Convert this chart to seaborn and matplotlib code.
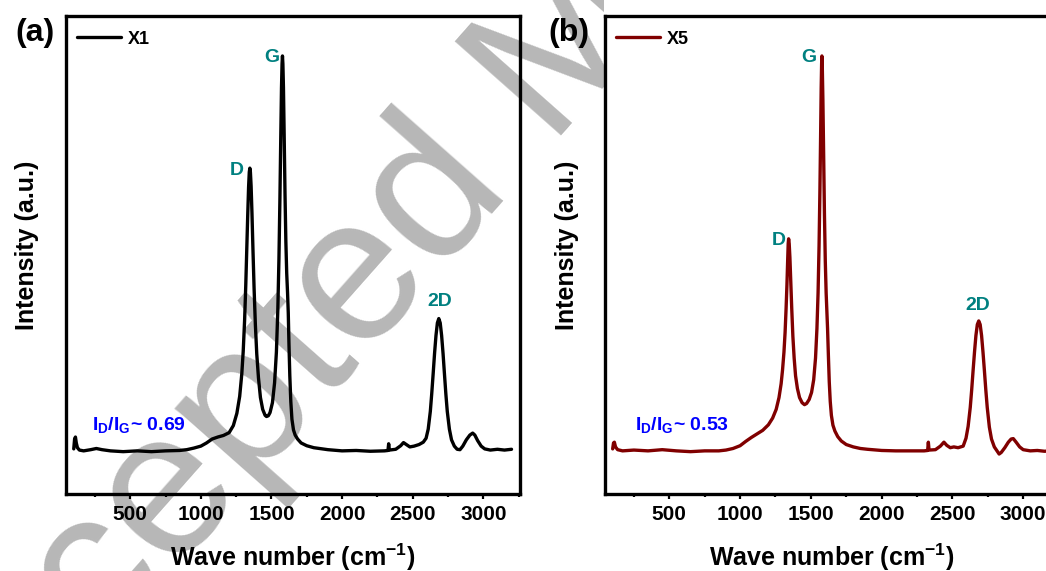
import matplotlib
matplotlib.use("Agg")
import matplotlib.pyplot as plt
from matplotlib.ticker import MultipleLocator
from matplotlib.patches import Rectangle
import seaborn as sns

# ---------------- data ----------------
wn_x1 = [100, 106, 112, 118, 126, 140, 170, 220, 260, 300, 360, 450, 550, 650, 750, 850,
         900, 950, 1000, 1040, 1080, 1120, 1160, 1200, 1230, 1255, 1275, 1290, 1300, 1310,
         1318, 1325, 1332, 1338, 1343, 1347, 1351, 1356, 1362, 1369, 1377, 1386, 1396, 1408,
         1422, 1438, 1455, 1465, 1478, 1490, 1507, 1522, 1535, 1545, 1553, 1560, 1566, 1571,
         1575, 1578, 1581, 1585, 1590, 1596, 1602, 1608, 1614, 1619, 1624, 1630, 1637, 1645,
         1656, 1668, 1685, 1710, 1750, 1800, 1900, 2000, 2100, 2200, 2300, 2325, 2330, 2335,
         2380, 2415, 2435, 2455, 2480, 2510, 2545, 2575, 2595, 2610, 2625, 2635, 2645, 2655,
         2665, 2675, 2685, 2695, 2705, 2715, 2725, 2735, 2745, 2760, 2775, 2795, 2815, 2835,
         2855, 2880, 2905, 2925, 2940, 2960, 2985, 3010, 3050, 3100, 3150, 3200]
int_x1 = [0.005, 0.03, 0.035, 0.02, 0.008, 0.002, 0.0, 0.003, 0.006, 0.003, 0.0, -0.002, 0.0,
          -0.002, 0.0, 0.001, 0.003, 0.007, 0.012, 0.02, 0.03, 0.035, 0.039, 0.046, 0.064,
          0.095, 0.138, 0.195, 0.252, 0.332, 0.418, 0.508, 0.598, 0.668, 0.706, 0.716, 0.706,
          0.67, 0.602, 0.51, 0.412, 0.32, 0.245, 0.185, 0.135, 0.105, 0.09, 0.087, 0.089,
          0.097, 0.122, 0.172, 0.25, 0.356, 0.486, 0.641, 0.796, 0.919, 0.98, 1.0, 0.98, 0.92,
          0.80, 0.65, 0.53, 0.45, 0.40, 0.35, 0.27, 0.19, 0.125, 0.08, 0.053, 0.04, 0.03, 0.02,
          0.013, 0.008, 0.003, 0.0, 0.001, -0.001, 0.0, 0.001, 0.018, 0.002, 0.004, 0.013,
          0.021, 0.016, 0.01, 0.012, 0.016, 0.022, 0.032, 0.055, 0.10, 0.145, 0.195, 0.247,
          0.292, 0.324, 0.335, 0.324, 0.292, 0.247, 0.195, 0.144, 0.10, 0.055, 0.028, 0.012,
          0.004, 0.003, 0.012, 0.028, 0.04, 0.045, 0.04, 0.026, 0.012, 0.005, 0.002, 0.004,
          0.002, 0.004]

wn_x5 = [100, 106, 112, 120, 135, 170, 250, 350, 450, 550, 650, 750, 850, 900, 950, 1000,
         1040, 1080, 1120, 1160, 1200, 1230, 1255, 1275, 1290, 1300, 1310, 1318, 1325, 1331,
         1336, 1340, 1343, 1347, 1352, 1358, 1365, 1373, 1382, 1392, 1405, 1420, 1438, 1455,
         1470, 1488, 1505, 1520, 1533, 1543, 1551, 1558, 1564, 1569, 1573, 1576, 1578, 1581,
         1585, 1590, 1596, 1602, 1608, 1613, 1618, 1624, 1630, 1637, 1645, 1656, 1670, 1690,
         1715, 1750, 1800, 1850, 1900, 2000, 2100, 2200, 2300, 2325, 2330, 2335, 2380, 2415,
         2440, 2460, 2485, 2510, 2540, 2576, 2596, 2611, 2626, 2636, 2646, 2656, 2666, 2676,
         2686, 2696, 2706, 2716, 2726, 2736, 2746, 2761, 2776, 2796, 2815, 2830, 2845, 2870,
         2895, 2915, 2930, 2950, 2975, 3000, 3050, 3100, 3150, 3200]
int_x5 = [0.005, 0.02, 0.022, 0.01, 0.003, 0.0, 0.002, 0.0, 0.003, 0.0, -0.002, 0.0, 0.0,
          0.002, 0.006, 0.013, 0.024, 0.034, 0.043, 0.052, 0.066, 0.083, 0.105, 0.135, 0.17,
          0.205, 0.25, 0.30, 0.36, 0.42, 0.48, 0.525, 0.537, 0.525, 0.49, 0.43, 0.36, 0.29,
          0.235, 0.19, 0.158, 0.135, 0.122, 0.117, 0.12, 0.13, 0.148, 0.18, 0.235, 0.31, 0.40,
          0.52, 0.66, 0.80, 0.92, 0.98, 1.0, 0.97, 0.89, 0.76, 0.60, 0.48, 0.40, 0.355, 0.31,
          0.24, 0.175, 0.125, 0.09, 0.065, 0.05, 0.036, 0.025, 0.016, 0.01, 0.006, 0.004,
          0.001, 0.0, 0.0, 0.0, 0.001, 0.022, 0.002, 0.003, 0.012, 0.022, 0.014, 0.008, 0.01,
          0.008, 0.012, 0.032, 0.062, 0.11, 0.154, 0.203, 0.25, 0.292, 0.32, 0.329, 0.32,
          0.292, 0.25, 0.203, 0.154, 0.11, 0.06, 0.03, 0.01, 0.0, -0.008, -0.004, 0.008,
          0.022, 0.03, 0.031, 0.022, 0.01, 0.003, 0.0, 0.001, -0.001, 0.0]

peak_names = ["D", "G", "2D"]
peak_pos_x1 = [(1254, 0.71), (1505, 0.996), (2694, 0.378)]
peak_pos_x5 = [(1270, 0.532), (1486, 0.996), (2682, 0.368)]
ratio_x1 = "0.69"
ratio_x5 = "0.53"
series_names = ["X1", "X5"]
panel_tags = ["(a)", "(b)"]
xticks = [500, 1000, 1500, 2000, 2500, 3000]

# ---------------- style ----------------
sns.set_theme(style="ticks")
plt.rcParams["font.family"] = ["Liberation Sans", "DejaVu Sans"]
plt.rcParams.update({
    "font.weight": "bold",
    "text.color": "black",
    "axes.labelcolor": "black",
    "axes.edgecolor": "black",
    "xtick.color": "black",
    "ytick.color": "black",
    "mathtext.fontset": "custom",
    "mathtext.rm": "Liberation Sans:bold",
    "mathtext.bf": "Liberation Sans:bold",
    "mathtext.it": "Liberation Sans:bold",
})

W, H = 1046, 571
fig = plt.figure(figsize=(W / 100, H / 100), dpi=100)
fig.patch.set_facecolor("white")


def px_axes(left, top, right, bottom):
    return fig.add_axes([left / W, 1 - bottom / H, (right - left) / W, (bottom - top) / H])


# watermark behind the plots (only visible left of panel b, as in the reference)
wm = fig.text(-55 / W, 1 - 833 / H, "Accepted Manuscript", fontsize=148, color="#b7b7b7",
              rotation=48.5, rotation_mode="anchor", ha="left", va="baseline",
              fontweight="normal", zorder=-10)
wm.set_clip_path(Rectangle((0, 0), 604 / W, 1, transform=fig.transFigure))

ax_a = px_axes(65.7, 15.7, 520, 494.3)
ax_b = px_axes(604.6, 15.7, 1060, 494.3)

TEAL = "#008080"
BLUE = "#0000ff"


def draw(ax, x, y, color, name, peaks, ratio, ratio_x):
    ax.set_facecolor("none")
    sns.lineplot(x=x, y=y, ax=ax, color=color, linewidth=2.4, label=name,
                 estimator=None, sort=False)
    ax.set_xlim(43, 3260)
    ax.set_ylim(-0.11, 1.102)
    ax.set_xticks(xticks)
    ax.xaxis.set_minor_locator(MultipleLocator(250))
    ax.set_yticks([])
    ax.tick_params(axis="x", which="major", direction="out", length=3.5, width=1.6,
                   labelsize=15, pad=4.5, bottom=True, top=False)
    ax.tick_params(axis="x", which="minor", direction="out", length=2.0, width=1.6,
                   bottom=True, top=False)
    for s in ax.spines.values():
        s.set_visible(True)
        s.set_linewidth(2.4)
        s.set_color("black")
    ax.set_xlabel("")
    ax.set_ylabel("")
    for nm, (px, py) in zip(peak_names, peaks):
        ax.text(px, py, nm, color=TEAL, fontsize=14, fontweight="bold",
                ha="center", va="center")
    ax.text(ratio_x, 0.066, r"$\mathbf{I_D}$/$\mathbf{I_G}$~ " + ratio, color=BLUE,
            fontsize=14, fontweight="bold", ha="left", va="center")
    ax.legend(loc="center left", bbox_to_anchor=(0.0242, 0.9507), frameon=False,
              handlelength=2.44, handletextpad=0.4, borderpad=0, borderaxespad=0,
              prop={"weight": "bold", "size": 13})


draw(ax_a, wn_x1, int_x1, "black", series_names[0], peak_pos_x1, ratio_x1, 229)
draw(ax_b, wn_x5, int_x5, "#800000", series_names[1], peak_pos_x5, ratio_x5, 260)

# axis titles and panel tags
for cx_label, cx_axis, tag, tx in [(27, 292.8, panel_tags[0], 35), (567, 832, panel_tags[1], 568.8)]:
    fig.text(cx_label / W, 1 - 245 / H, "Intensity (a.u.)", rotation=90, ha="center",
             va="center", fontsize=18, fontweight="bold")
    fig.text(cx_axis / W, 1 - 566 / H, r"Wave number (cm$^{\mathbf{-1}}$)", ha="center",
             va="baseline", fontsize=18, fontweight="bold")
    fig.text(tx / W, 1 - 32.5 / H, tag, ha="center", va="center", fontsize=23,
             fontweight="bold")

fig.savefig("out.png", dpi=100)
